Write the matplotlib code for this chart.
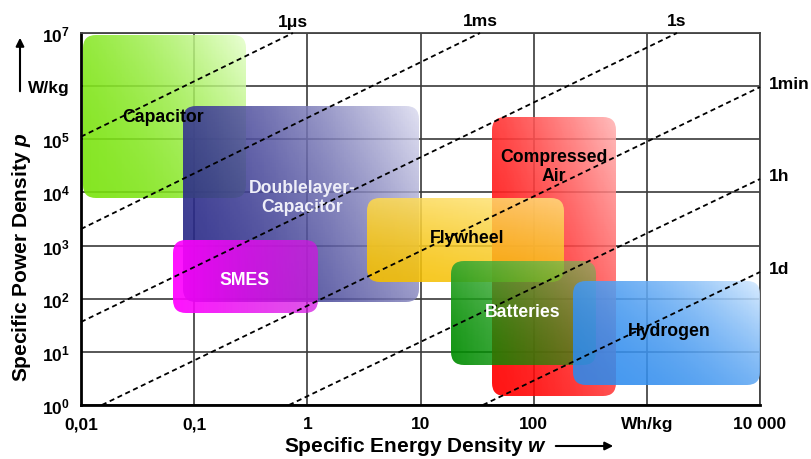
import numpy as np
import matplotlib.pyplot as plt
from matplotlib.patches import FancyBboxPatch
from matplotlib.transforms import IdentityTransform

plt.rcParams['font.family'] = ['Liberation Sans', 'DejaVu Sans']
plt.rcParams['font.weight'] = 'bold'
plt.rcParams['mathtext.fontset'] = 'custom'
plt.rcParams['mathtext.rm'] = 'Liberation Sans:bold'
plt.rcParams['mathtext.bf'] = 'Liberation Sans:bold'
plt.rcParams['mathtext.it'] = 'Liberation Sans:bold:italic'

# Speicher-Technologien: Energiedichte w (Wh/kg) und Leistungsdichte p (W/kg)
techs = ['Capacitor', 'Doublelayer-\nCapacitor', 'SMES', 'Compressed\nAir',
         'Flywheel', 'Batteries', 'Hydrogen']
w_min = [0.0104, 0.080, 0.065, 43, 3.4, 18.6, 222]
w_max = [0.287, 9.7, 1.24, 533, 185, 356, 10000]
p_min = [7.9e3, 87, 54, 1.48, 206, 5.7, 2.4]
p_max = [9.2e6, 4.2e5, 1270, 2.6e5, 7.9e3, 513, 215]

# Linien konstanter Entladezeit (Endpunkte)
tau_labels = ['1μs', '1ms', '1s', '1min', '1h', '1d']
tau_w0 = [0.01, 0.01, 0.01, 0.0153, 0.689, 35.6]
tau_p0 = [1.12e5, 2050, 36.5, 1, 1, 1]
tau_w1 = [0.746, 33.6, 1846, 1e4, 1e4, 1e4]
tau_p1 = [1e7, 1e7, 1e7, 9.6e5, 1.79e4, 318]

x_ticks = [0.01, 0.1, 1, 10, 100, 1000, 10000]
x_ticklabels = ['0,01', '0,1', '1', '10', '100', 'Wh/kg', '10 000']
y_ticks = [1, 10, 100, 1e3, 1e4, 1e5, 1e6, 1e7]
y_ticklabels = [r'$\mathbf{10^0}$', r'$\mathbf{10^1}$', r'$\mathbf{10^2}$', r'$\mathbf{10^3}$',
                r'$\mathbf{10^4}$', r'$\mathbf{10^5}$', 'W/kg', r'$\mathbf{10^7}$']

# Farbverlauf je Feld: Farbe unten-links, Farbe oben-rechts, Gewichte (x, y), Exponent,
# Alpha links/rechts, Textfarbe
styles = {
    'Capacitor': ((0.47, 0.89, 0.04), (0.90, 1.0, 0.80), (0.6, 0.4), 2.0, (0.9, 0.82), 'black'),
    'Doublelayer-\nCapacitor': ((0.14, 0.14, 0.52), (0.86, 0.86, 0.94), (0.7, 0.3), 1.8, (0.9, 0.82), '#EEEEF8'),
    'SMES': ((1.0, 0.0, 1.0), (0.82, 0.08, 0.88), (1.0, 0.0), 1.0, (0.93, 0.72), 'white'),
    'Compressed\nAir': ((1.0, 0.0, 0.0), (1.0, 0.70, 0.70), (0.5, 0.5), 1.8, (0.92, 0.85), 'black'),
    'Flywheel': ((0.96, 0.75, 0.0), (1.0, 0.90, 0.50), (0.25, 0.75), 1.5, (0.9, 0.8), 'black'),
    'Batteries': ((0.0, 0.55, 0.0), (0.40, 0.75, 0.36), (0.3, 0.7), 1.8, (0.92, 0.55), 'white'),
    'Hydrogen': ((0.17, 0.54, 0.93), (0.84, 0.92, 1.0), (0.6, 0.4), 2.2, (0.88, 0.88), 'black'),
}
label_pos = {
    'Capacitor': (0.053, 2.7e5),
    'Doublelayer-\nCapacitor': (0.90, 8.2e3),
    'SMES': (0.28, 225),
    'Compressed\nAir': (151, 3.1e4),
    'Flywheel': (25.8, 1390),
    'Batteries': (80.5, 58.7),
    'Hydrogen': (1570, 24.7),
}

fig = plt.figure(figsize=(8.11, 4.60), dpi=100)
ax = fig.add_axes([81 / 811, 54 / 460, 679 / 811, 372 / 460])
ax.set_xscale('log')
ax.set_yscale('log')
ax.set_xlim(0.01, 10000)
ax.set_ylim(1, 1e7)

ax.set_xticks(x_ticks)
ax.set_xticklabels(x_ticklabels)
ax.set_yticks(y_ticks)
ax.set_yticklabels(y_ticklabels)
ax.minorticks_off()
ax.tick_params(length=0, labelsize=12.5)
ax.tick_params(axis='x', pad=8)
ax.tick_params(axis='y', pad=8)
ax.grid(True, color='#3a3a3a', lw=1.2, zorder=0)
ax.set_axisbelow(True)
for side in ['left', 'bottom']:
    ax.spines[side].set_linewidth(2.0)
    ax.spines[side].set_color('black')
for side in ['top', 'right']:
    ax.spines[side].set_linewidth(1.3)
    ax.spines[side].set_color('#444444')

# Felder als abgerundete Rechtecke mit Farbverlauf (logarithmisch gleichmäßig)
n = 120
for i, name in enumerate(techs):
    c0, c1, (kx, ky), gamma, (a0, a1), tc = styles[name]
    we = np.geomspace(w_min[i], w_max[i], n + 1)
    pe = np.geomspace(p_min[i], p_max[i], n + 1)
    f = (np.arange(n) + 0.5) / n
    gx, gy = np.meshgrid(f, f)
    t = (((kx * gx + ky * gy) / (kx + ky)) ** gamma)[..., None]
    rgba = np.zeros((n, n, 4))
    rgba[..., :3] = np.array(c0) * (1 - t) + np.array(c1) * t
    rgba[..., 3] = a0 + (a1 - a0) * gx
    mesh = ax.pcolormesh(we, pe, rgba, shading='flat', zorder=2 + i * 0.1,
                         edgecolors='none', antialiased=False)
    (x0, y0) = ax.transData.transform((w_min[i], p_min[i]))
    (x1, y1) = ax.transData.transform((w_max[i], p_max[i]))
    r = 13
    clip = FancyBboxPatch((x0 + r, y0 + r), x1 - x0 - 2 * r, y1 - y0 - 2 * r,
                          boxstyle=f'round,pad={r}', transform=IdentityTransform(),
                          facecolor='none', edgecolor='none')
    mesh.set_clip_path(clip)
    lx, ly = label_pos[name]
    ax.text(lx, ly, name, ha='center', va='center', fontsize=12.7, color=tc,
            linespacing=1.15, zorder=5)

# Linien konstanter Zeit
for i, lab in enumerate(tau_labels):
    ax.plot([tau_w0[i], tau_w1[i]], [tau_p0[i], tau_p1[i]], color='black', lw=1.3,
            dashes=(2.8, 2.0), zorder=4, clip_on=False)
    if tau_p1[i] >= 1e7:
        ax.annotate(lab, (tau_w1[i], tau_p1[i]), xytext=(0, 12), textcoords='offset pixels',
                    ha='center', va='center', fontsize=12.5, annotation_clip=False)
    else:
        ax.annotate(lab, (tau_w1[i], tau_p1[i]), xytext=(9, 3.5), textcoords='offset pixels',
                    ha='left', va='center', fontsize=12.5, annotation_clip=False)

# Achsenbeschriftungen mit Pfeilen
fig.text(22 / 811, 1 - 257 / 460, 'Specific Power Density $p$', rotation=90,
         ha='center', va='center', fontsize=15)
ax.annotate('', xy=(20, 460 - 36), xytext=(20, 460 - 95), xycoords='figure pixels',
            textcoords='figure pixels',
            arrowprops=dict(arrowstyle='-|>', lw=1.5, color='black', mutation_scale=12))
fig.text(415 / 811, 13 / 460, 'Specific Energy Density $w$', ha='center', va='center',
         fontsize=15)
ax.annotate('', xy=(616, 13), xytext=(553, 13), xycoords='figure pixels',
            textcoords='figure pixels',
            arrowprops=dict(arrowstyle='-|>', lw=1.5, color='black', mutation_scale=12))

fig.savefig('out.png', dpi=100)
